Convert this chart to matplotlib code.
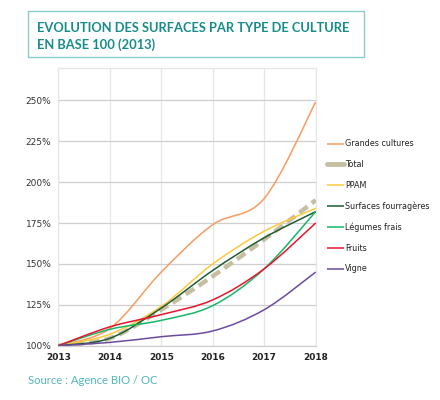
import numpy as np
import matplotlib.pyplot as plt
from matplotlib.path import Path
from matplotlib.patches import PathPatch, Rectangle
from matplotlib.lines import Line2D
from matplotlib.ticker import FuncFormatter

# data (index base 100 in 2013)
years = [2013, 2014, 2015, 2016, 2017, 2018]
grandes_cultures = [100, 110.5, 145, 174, 190, 249]
total = [100, 104.5, 122, 142.5, 165, 189]
ppam = [100, 107, 124, 150, 170, 184]
surfaces_fourrageres = [100, 104.5, 123, 146, 166, 182]
legumes_frais = [100, 110, 115.5, 124.5, 147, 182]
fruits = [100, 111.5, 119, 128, 147, 175]
vigne = [100, 102, 105.5, 109, 122, 145]

series = [
    ("Grandes cultures", grandes_cultures, "#f79b62", 1.1, "-"),
    ("Total", total, "#c6bea2", 3.2, (0, (2.3, 1.2))),
    ("PPAM", ppam, "#fec83e", 1.1, "-"),
    ("Surfaces fourragères", surfaces_fourrageres, "#1d5c30", 1.1, "-"),
    ("Légumes frais", legumes_frais, "#17b568", 1.1, "-"),
    ("Fruits", fruits, "#e8152d", 1.1, "-"),
    ("Vigne", vigne, "#6b4b9e", 1.1, "-"),
]


# Excel-like smoothed line: cubic bezier through the points
def smooth_path(x, y):
    p = np.column_stack([x, y]).astype(float)
    pp = np.vstack([p[0], p, p[-1]])
    verts = [p[0]]
    codes = [Path.MOVETO]
    for i in range(len(p) - 1):
        c1 = pp[i + 1] + (pp[i + 2] - pp[i]) / 6
        c2 = pp[i + 2] - (pp[i + 3] - pp[i + 1]) / 6
        verts += [c1, c2, pp[i + 2]]
        codes += [Path.CURVE4] * 3
    return Path(verts, codes)


fig = plt.figure(figsize=(4.4, 4.0), dpi=100)
ax = fig.add_axes([0.1325, 0.1358, 0.585, 0.693])

handles = []
for name, vals, color, lw, ls in series:
    patch = PathPatch(smooth_path(years, vals), fill=False, edgecolor=color,
                      linewidth=lw, linestyle=ls, capstyle="butt", zorder=3)
    ax.add_patch(patch)
    handles.append(Line2D([0], [0], color=color, linewidth=lw if lw < 2 else 3.5,
                          solid_capstyle="round" if lw > 2 else "butt"))

ax.set_xlim(2013, 2018)
ax.set_ylim(100, 269.5)
ax.set_xticks(years)
ax.set_yticks([100, 125, 150, 175, 200, 225, 250])
ax.yaxis.set_major_formatter(FuncFormatter(lambda v, p: f"{v:.0f}%"))
ax.grid(axis="x", color="#e6e6e6", linewidth=0.9)
ax.grid(axis="y", color="#cfcfcf", linewidth=0.9)
ax.set_axisbelow(True)
for s in ax.spines.values():
    s.set_color("#e6e6e6")
    s.set_linewidth(0.9)
ax.spines["bottom"].set_color("#cfcfcf")
ax.tick_params(length=0, pad=5, labelsize=6.5, colors="#333333")
for lab in ax.get_xticklabels():
    lab.set_fontweight("bold")
    lab.set_color("#222222")

leg = ax.legend(handles, [s[0] for s in series], loc="upper left",
                bbox_to_anchor=(1.03, 0.756), frameon=False, fontsize=5.8,
                handlelength=2.2, handletextpad=0.1, labelspacing=1.45,
                borderaxespad=0)
for t in leg.get_texts():
    t.set_color("#222222")

# title box
fig.patches.append(Rectangle((28 / 440, 1 - 57.3 / 400), 336 / 440, 46 / 400,
                             transform=fig.transFigure, fill=False,
                             edgecolor="#86cccb", linewidth=1.0))
fig.text(37 / 440, 1 - 27.5 / 400, "EVOLUTION DES SURFACES PAR TYPE DE CULTURE",
         family="Lato", fontweight="bold", fontsize=9.3, color="#178c8a",
         va="center")
fig.text(37 / 440, 1 - 44.5 / 400, "EN BASE 100 (2013)",
         family="Lato", fontweight="bold", fontsize=9.3, color="#178c8a",
         va="center")
fig.text(28 / 440, 1 - 380 / 400, "Source : Agence BIO / OC", family="Lato",
         fontsize=8.1, color="#52b7ba", va="center")

fig.savefig("out.png", dpi=100)
